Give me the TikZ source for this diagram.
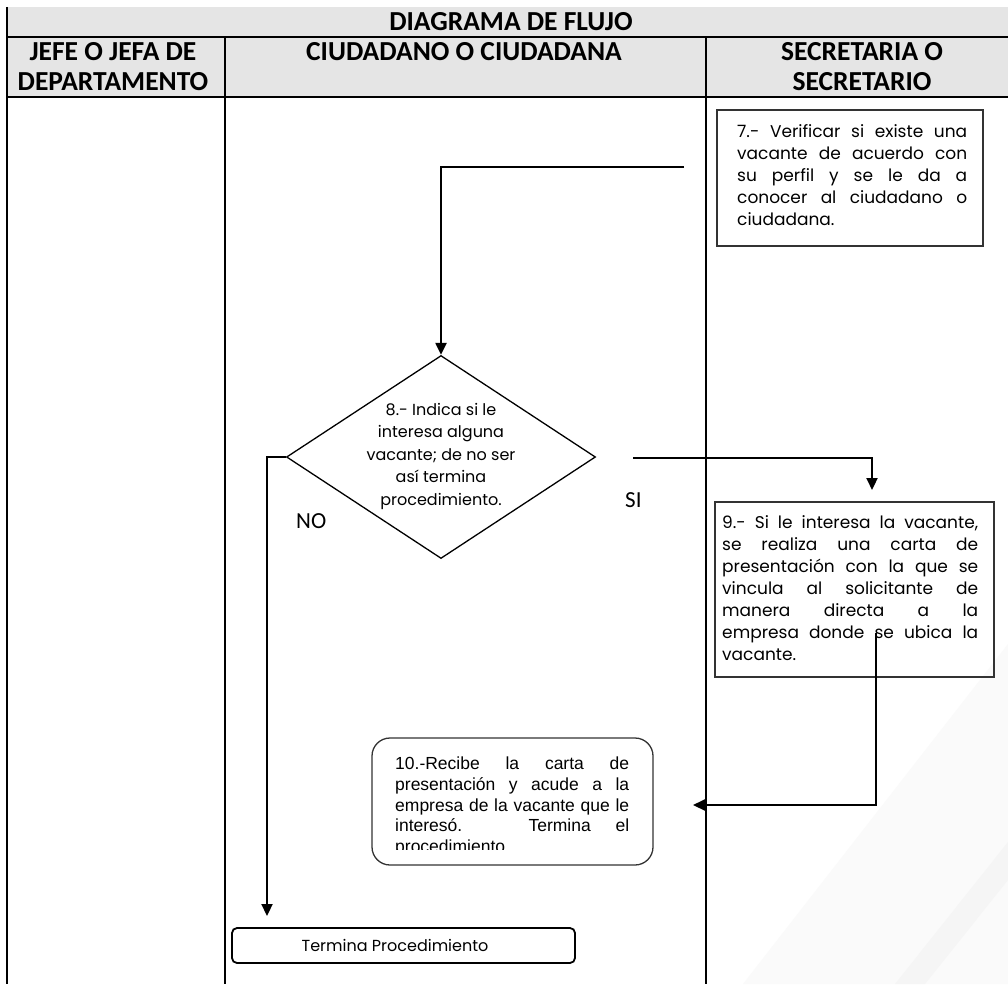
\documentclass[tikz,border=0pt]{standalone}
\usepackage{fontspec}
\setmainfont{Poppins}
\newfontfamily\calib{Carlito}
\newfontfamily\arialf{Liberation Sans}
\usetikzlibrary{arrows.meta,shapes.geometric}
\newcommand\jl[2]{\makebox[#1][s]{#2}}
\begin{document}
\begin{tikzpicture}[x=1pt,y=-1pt,
  lane/.style={line width=1.4pt},
  box/.style={draw=black!80, line width=1.3pt, inner sep=0pt},
  conn/.style={line width=2.2pt, -{Triangle[length=12pt,width=11pt]}},
  hdr/.style={font=\calib\bfseries\fontsize{27.5}{30}\selectfont, align=center, inner sep=0pt},
  body/.style={font=\fontsize{16}{22}\selectfont, inner sep=0pt, align=left},
  arialtext/.style={font=\arialf\fontsize{17.5}{20.7}\selectfont, inner sep=0pt, align=left},
  yesno/.style={font=\calib\fontsize{23}{26}\selectfont, inner sep=0pt},
]
\useasboundingbox[fill=white] (0,0) rectangle (1008,984);
% faint watermark bands
\fill[gray!4] (743,984) -- (1008,644) -- (1008,984) -- cycle;
\fill[gray!8] (895,984) -- (1008,842) -- (1008,880) -- (925,984) -- cycle;
% header
\fill[gray!20] (7,7) rectangle (1008,97);
\draw[lane] (7,7) -- (7,984);
\draw[lane] (7,37) -- (1008,37);
\draw[lane] (7,97) -- (1008,97);
\draw[lane] (225,37) -- (225,984);
\draw[lane] (706,37) -- (706,984);
\node[hdr, anchor=base] (title) at (511,31) {DIAGRAMA DE FLUJO};
\node[hdr] (h1) at (113,67) {JEFE O JEFA DE\\DEPARTAMENTO};
\node[hdr, anchor=base] (h2) at (464,61) {CIUDADANO O CIUDADANA};
\node[hdr] (h3) at (862,67) {SECRETARIA O\\SECRETARIO};
% box 7
\node[box, minimum width=266pt, minimum height=136pt] (b7) at (850,178) {};
\node[body, anchor=north west, font=\fontsize{17}{22}\selectfont] (t7) at (737,124) {%
\jl{230pt}{7.- Verificar si existe una}\\
\jl{230pt}{vacante de acuerdo con}\\
\jl{230pt}{su perfil y se le da a}\\
\jl{230pt}{conocer al ciudadano o}\\
ciudadana.};
% diamond 8
\node[draw, diamond, line width=1.3pt, minimum width=309pt, minimum height=203pt, inner sep=0pt] (d) at (441,457) {};
\node[body, align=center, font=\fontsize{16}{22.5}\selectfont] (t8) at (441,456) {8.- Indica si le\\interesa alguna\\vacante; de no ser\\así termina\\procedimiento.};
% box 9
\node[box, minimum width=279pt, minimum height=175pt] (b9) at (854.5,589.5) {};
\node[body, anchor=north west, font=\fontsize{17}{22}\selectfont] (t9) at (722,515) {%
\jl{256pt}{9.- Si le interesa la vacante,}\\
\jl{256pt}{se realiza una carta de}\\
\jl{256pt}{presentación con la que se}\\
\jl{256pt}{vincula al solicitante de}\\
\jl{256pt}{manera directa a la}\\
\jl{256pt}{empresa donde se ubica la}\\
vacante.};
% box 10
\node[box, rounded corners=18pt, minimum width=281pt, minimum height=127pt] (b10) at (512.5,801.5) {};
\begin{scope}
\clip (380,745) rectangle (640,849);
\node[arialtext, anchor=north west] (t10) at (395,757) {%
\jl{234pt}{10.-Recibe la carta de}\\
\jl{234pt}{presentación y acude a la}\\
\jl{234pt}{empresa de la vacante que le}\\
\jl{234pt}{interesó. Termina el}\\
procedimiento};
\end{scope}
% end box
\node[draw, line width=1.8pt, rounded corners=5pt, minimum width=343pt, minimum height=35pt, inner sep=0pt] (fin) at (403.5,945.5) {};
\node[body] (tfin) at (395,945) {Termina Procedimiento};
% labels
\node[yesno, anchor=base west] (no) at (296,528) {NO};
\node[yesno, anchor=base west] (si) at (625,507) {SI};
% connectors
\coordinate (c7) at (684,167);
\coordinate (noEnd) at (267,916);
\coordinate (siStart) at (633,458);
\coordinate (siEnd) at (872,490);
\coordinate (s9) at (876,633);
\coordinate (e10) at (693,805);
\draw[conn] (c7) -| (d.north);
\draw[conn] (d.west) -| (noEnd);
\draw[conn] (siStart) -| (siEnd);
\draw[conn] (s9) |- (e10);
\end{tikzpicture}
\end{document}
